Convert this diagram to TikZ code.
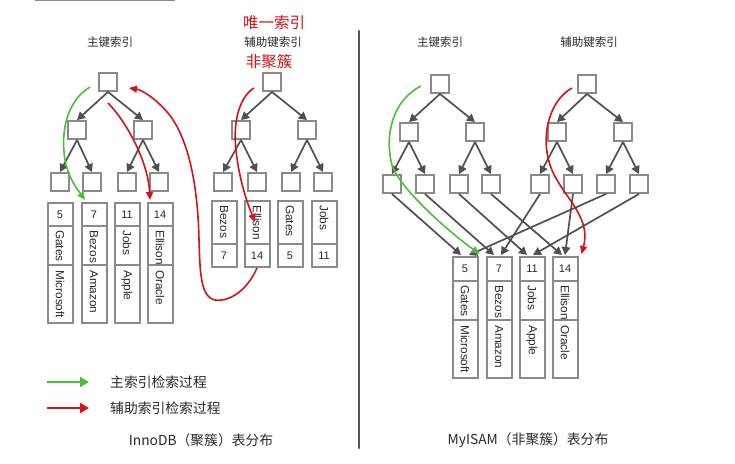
\documentclass[tikz,border=0pt]{standalone}
\usepackage{fontspec}
\setmainfont{Liberation Sans}
\newfontfamily\cjk{Noto Sans CJK SC}
\usetikzlibrary{arrows.meta,calc}
\definecolor{boxgray}{HTML}{8A8A8A}
\definecolor{arrgray}{HTML}{505050}
\definecolor{gr}{HTML}{4DBE3C}
\definecolor{rd}{HTML}{D0141A}
\definecolor{divc}{HTML}{55555F}
\definecolor{txt}{HTML}{2A2A2A}
\begin{document}
\begin{tikzpicture}[x=1pt,y=-1pt,
  tbox/.style={draw=boxgray, line width=2.4pt, fill=white, minimum size=17.5pt, inner sep=0pt},
  tarr/.style={draw=arrgray, line width=1.7pt, -{Triangle[length=8pt,width=8.5pt]}},
  cell/.style={draw=boxgray, line width=2pt, minimum width=25pt, inner sep=0pt, outer sep=0pt, anchor=north,
    text=txt, font=\fontsize{11}{13}\selectfont},
  rtext/.style={rotate=-90, anchor=west, inner sep=0pt, text=txt, font=\fontsize{11.8}{13}\selectfont},
  curvg/.style={draw=gr, line width=1.6pt, -{Triangle[length=8pt,width=7pt]}},
  curvr/.style={draw=rd, line width=1.6pt, -{Triangle[length=8pt,width=7pt]}},
  ttl/.style={text=txt, font=\cjk\fontsize{11.5}{13}\selectfont, inner sep=0pt},
  redttl/.style={text=rd, font=\cjk\fontsize{15.5}{17}\selectfont, inner sep=0pt},
  bigttl/.style={text=txt, font=\cjk\fontsize{13.8}{15}\selectfont, inner sep=0pt},
  legarr/.style={line width=2.6pt, -{Triangle[length=9pt,width=10pt]}}
]
\fill[white] (0,0) rectangle (735,463);
\useasboundingbox (0,0) rectangle (735,463);

% top cut-off line and divider
\draw[boxgray, line width=1.2pt] (35,0.6) -- (175,0.6);
\draw[divc, line width=2.6pt, line cap=round] (359,31) -- (359,448);

% titles
\node[ttl] (t1) at (110,42) {主键索引};
\node[ttl] (t2) at (273,42) {辅助键索引};
\node[redttl] (t3) at (274,23) {唯一索引};
\node[redttl] (t4) at (269,62) {非聚簇};
\node[ttl] (t5) at (440,42) {主键索引};
\node[ttl] (t6) at (589,42) {辅助键索引};
\node[bigttl] (b1) at (201,440) {InnoDB（聚簇）表分布};
\node[bigttl] (b2) at (528,440) {MyISAM（非聚簇）表分布};

% InnoDB primary tree
\node[tbox] (p) at (108,82) {};
\node[tbox] (p1) at (77,130) {};
\node[tbox] (p2) at (143,130) {};
\node[tbox] (p11) at (60,182) {};
\node[tbox] (p12) at (92,182) {};
\node[tbox] (p21) at (127,182) {};
\node[tbox] (p22) at (159,182) {};
\foreach \a/\b in {p/p1,p/p2,p1/p11,p1/p12,p2/p21,p2/p22}
  \draw[tarr] (\a.south) -- (\b.north);

% InnoDB secondary tree
\node[tbox] (s) at (272,82) {};
\node[tbox] (s1) at (241,130) {};
\node[tbox] (s2) at (307,130) {};
\node[tbox] (s11) at (223,182) {};
\node[tbox] (s12) at (257,182) {};
\node[tbox] (s21) at (291,182) {};
\node[tbox] (s22) at (323,182) {};
\foreach \a/\b in {s/s1,s/s2,s1/s11,s1/s12,s2/s21,s2/s22}
  \draw[tarr] (\a.south) -- (\b.north);

% MyISAM primary tree
\node[tbox] (q) at (440,84) {};
\node[tbox] (q1) at (409,132) {};
\node[tbox] (q2) at (475,132) {};
\node[tbox] (q11) at (392,184) {};
\node[tbox] (q12) at (425,184) {};
\node[tbox] (q21) at (459,184) {};
\node[tbox] (q22) at (491,184) {};
\foreach \a/\b in {q/q1,q/q2,q1/q11,q1/q12,q2/q21,q2/q22}
  \draw[tarr] (\a.south) -- (\b.north);

% MyISAM secondary tree
\node[tbox] (r) at (587,84) {};
\node[tbox] (r1) at (557,132) {};
\node[tbox] (r2) at (623,132) {};
\node[tbox] (r11) at (540,184) {};
\node[tbox] (r12) at (573,184) {};
\node[tbox] (r21) at (606,184) {};
\node[tbox] (r22) at (639,184) {};
\foreach \a/\b in {r/r1,r/r2,r1/r11,r1/r12,r2/r21,r2/r22}
  \draw[tarr] (\a.south) -- (\b.north);

% InnoDB clustered records
\foreach \i/\x/\n/\a/\b in {1/60/5/Gates/Microsoft,2/94/7/Bezos/Amazon,3/127/11/Jobs/Apple,4/160/14/Ellison/Oracle}{
  \node[cell, minimum height=23pt] (ia\i) at (\x,203) {\n};
  \node[cell, minimum height=39pt] (ib\i) at (ia\i.south) {};
  \node[cell, minimum height=58pt] (ic\i) at (ib\i.south) {};
  \node[rtext] (ian\i) at ([yshift=-4pt]ib\i.north) {\a};
  \node[rtext] (iac\i) at ([yshift=-5pt]ic\i.north) {\b};
}

% InnoDB secondary records
\foreach \i/\x/\n/\a in {1/224/7/Bezos,2/257/14/Ellison,3/290/5/Gates,4/324/11/Jobs}{
  \node[cell, minimum height=43pt] (sa\i) at (\x,201) {};
  \node[cell, minimum height=23pt] (sb\i) at (sa\i.south) {\n};
  \node[rtext] (san\i) at ([yshift=-4pt]sa\i.north) {\a};
}

% MyISAM records
\foreach \i/\x/\n/\a/\b in {1/465/5/Gates/Microsoft,2/499/7/Bezos/Amazon,3/532/11/Jobs/Apple,4/565/14/Ellison/Oracle}{
  \node[cell, minimum height=24pt] (ma\i) at (\x,257) {\n};
  \node[cell, minimum height=39pt] (mb\i) at (ma\i.south) {};
  \node[cell, minimum height=58pt] (mc\i) at (mb\i.south) {};
  \node[rtext] (man\i) at ([yshift=-4pt]mb\i.north) {\a};
  \node[rtext] (mac\i) at ([yshift=-5pt]mc\i.north) {\b};
}

% MyISAM leaf -> record pointers
\draw[tarr] (q11.south) -- ([xshift=-4pt,yshift=2pt]ma1.north);
\draw[tarr] (q12.south) -- ([xshift=-5pt,yshift=2pt]ma2.north);
\draw[tarr] (q21.south) -- ([xshift=-5pt,yshift=2pt]ma3.north);
\draw[tarr] (q22.south) -- ([xshift=-3pt,yshift=2pt]ma4.north);
\draw[tarr] (r11.south) -- ([xshift=2pt,yshift=2pt]ma2.north);
\draw[tarr] (r12.south) -- ([xshift=0pt,yshift=2pt]ma4.north);
\draw[tarr] (r21.south) -- ([xshift=4pt,yshift=2pt]ma1.north);
\draw[tarr] (r22.south) -- ([xshift=1pt,yshift=2pt]ma3.north);

% search paths
\coordinate (g1s) at (90,87);
\coordinate (r1s) at (108,103);
\coordinate (r2e) at (129,88);
\coordinate (r3s) at (254,88);
\coordinate (g2s) at (421,86);
\coordinate (r4s) at (572,88);

\draw[curvg] (g1s) .. controls (68,100) and (60,130) .. (65,160) .. controls (69,180) and (78,190) .. ([xshift=-9pt,yshift=3pt]ia2.north);
\draw[curvr] (r1s) .. controls (125,120) and (148,160) .. ([xshift=-10pt,yshift=3pt]ia4.north);
\draw[curvr] ([yshift=-1pt]sb2.south) .. controls (245,295) and (225,302) .. (215,300)
   .. controls (200,297) and (200,270) .. (199,240)
   .. controls (198,190) and (190,140) .. (168,113)
   .. controls (155,98) and (142,90) .. (r2e);
\draw[curvr] (r3s) .. controls (238,98) and (233,125) .. (236,150) .. controls (239,180) and (248,205) .. (255,222);
\draw[curvg] (g2s) .. controls (393,100) and (384,135) .. (392,165) .. controls (398,185) and (440,225) .. ([xshift=2pt,yshift=3pt]ma1.north east);
\draw[curvr] (r4s) .. controls (550,100) and (540,135) .. (550,165) .. controls (560,195) and (592,215) .. ([xshift=4pt,yshift=3pt]ma4.north east);

% legend
\coordinate (lg1) at (47,382);
\coordinate (lg2) at (89,382);
\coordinate (lr1) at (47,408);
\coordinate (lr2) at (89,408);
\draw[legarr, gr] (lg1) -- (lg2);
\draw[legarr, rd] (lr1) -- (lr2);
\node[bigttl, anchor=west] (lt1) at (110,382) {主索引检索过程};
\node[bigttl, anchor=west] (lt2) at (110,408) {辅助索引检索过程};
\end{tikzpicture}
\end{document}
